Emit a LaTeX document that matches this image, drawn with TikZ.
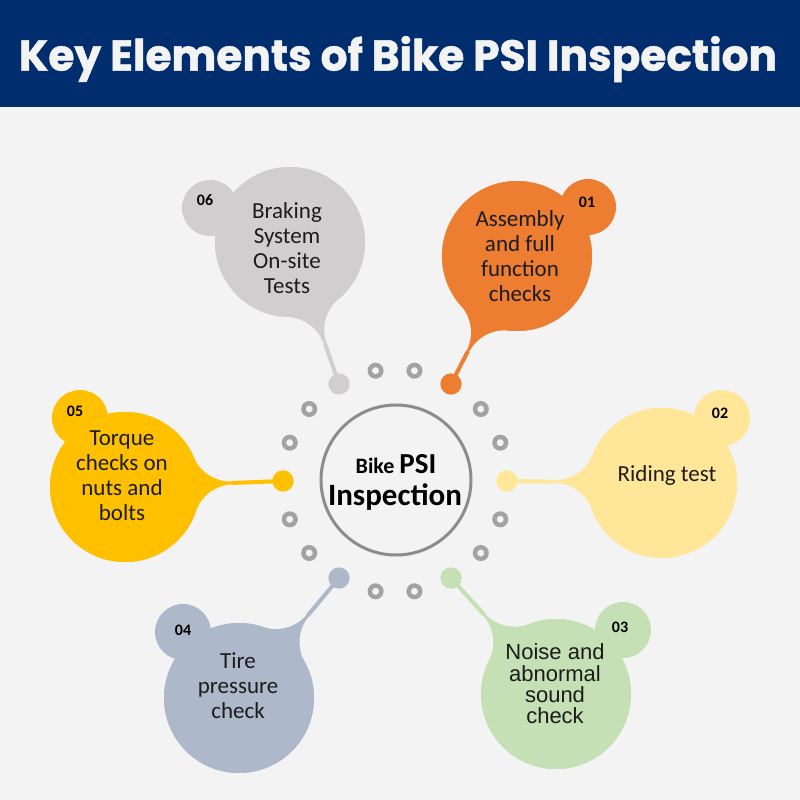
\documentclass[tikz,border=0pt]{standalone}
\usepackage{fontspec}
\usepackage{graphicx}
\setmainfont{Carlito}
\newfontfamily\arialfont{Liberation Sans}
\newfontfamily\headfont[BoldFeatures={FakeBold=1.2}]{Poppins}
\usetikzlibrary{calc}

\definecolor{bgc}{HTML}{F3F3F3}
\definecolor{navy}{HTML}{002D6E}
\definecolor{txt}{HTML}{1C1C1C}
\definecolor{ringgray}{HTML}{A3A3A3}
\definecolor{hubgray}{HTML}{8C8C8C}
\definecolor{cgray}{HTML}{D0CECE}
\definecolor{corange}{HTML}{ED7D31}
\definecolor{clight}{HTML}{FFE699}
\definecolor{cgreen}{HTML}{C5E0B4}
\definecolor{cblue}{HTML}{ADB9CA}
\definecolor{cyellow}{HTML}{FFC000}

% tapered neck joining a bubble (#1) to its dot (#2), colour #3
\newcommand\flare[3]{%
  \coordinate (fq) at ($(#1)!107.3pt!(#2)$);
  \fill[#3] (#1.center) -- ($(fq)!41.5pt!90:(#2)$) -- ($(fq)!41.5pt!-90:(#2)$) -- cycle;
  \fill[bgc] ($(fq)!41.5pt!90:(#2)$) circle (40pt) ($(fq)!41.5pt!-90:(#2)$) circle (40pt);
  \draw[#3, line width=4pt] (fq) -- (#2.center);
}

\tikzset{
  bubble/.style={circle, inner sep=0, minimum size=150pt},
  numdisc/.style={circle, inner sep=0, minimum size=56pt},
  numtext/.style={font=\bfseries\fontsize{16}{16}\selectfont, text=black, inner sep=0},
  lbl/.style={font=\fontsize{23}{25}\selectfont, text=txt, align=center, inner sep=0},
  ring/.style={circle, draw=ringgray, line width=4.5pt, fill=bgc, minimum size=11.5pt, inner sep=0},
  pin/.style={circle, inner sep=0, minimum size=21pt},
}

\begin{document}
\begin{tikzpicture}[x=1pt,y=-1pt]
\useasboundingbox (0,0) rectangle (800,800);
\fill[bgc] (0,0) rectangle (800,800);

% header band
\fill[navy] (0,0) rectangle (800,107);
\node[inner sep=0, text=bgc] (title) at (398,59)
  {\resizebox*{758pt}{46pt}{\headfont\bfseries Key Elements of Bike PSI Inspection}};

\coordinate (ctr) at (395,481);

% coloured dots on the ring
\node[pin, fill=corange] (p01) at ($(ctr)+(-60:112)$) {};
\node[pin, fill=clight]  (p02) at ($(ctr)+(0:112)$) {};
\node[pin, fill=cgreen]  (p03) at ($(ctr)+(60:112)$) {};
\node[pin, fill=cblue]   (p04) at ($(ctr)+(120:112)$) {};
\node[pin, fill=cyellow] (p05) at ($(ctr)+(180:112)$) {};
\node[pin, fill=cgray]   (p06) at ($(ctr)+(240:112)$) {};

% bubbles
\node[bubble, fill=cgray]   (b06) at (290,242) {};
\node[bubble, fill=corange] (b01) at (517,256) {};
\node[bubble, fill=clight]  (b02) at (662,483) {};
\node[bubble, fill=cgreen]  (b03) at (556,694) {};
\node[bubble, fill=cblue]   (b04) at (239,698) {};
\node[bubble, fill=cyellow] (b05) at (125,487) {};

\flare{b06}{p06}{cgray}
\flare{b01}{p01}{corange}
\flare{b02}{p02}{clight}
\flare{b03}{p03}{cgreen}
\flare{b04}{p04}{cblue}
\flare{b05}{p05}{cyellow}

% redraw bubbles and dots over the necks
\node[bubble, fill=cgray]   at (b06) {};
\node[bubble, fill=corange] at (b01) {};
\node[bubble, fill=clight]  at (b02) {};
\node[bubble, fill=cgreen]  at (b03) {};
\node[bubble, fill=cblue]   at (b04) {};
\node[bubble, fill=cyellow] at (b05) {};
\node[pin, fill=corange] at (p01) {};
\node[pin, fill=clight]  at (p02) {};
\node[pin, fill=cgreen]  at (p03) {};
\node[pin, fill=cblue]   at (p04) {};
\node[pin, fill=cyellow] at (p05) {};
\node[pin, fill=cgray]   at (p06) {};

% number discs
\node[numdisc, fill=cgray]   (n06) at (210,208) {};
\node[numdisc, fill=corange] (n01) at (588,207) {};
\node[numdisc, fill=clight]  (n02) at (722,418) {};
\node[numdisc, fill=cgreen]  (n03) at (623,630) {};
\node[numdisc, fill=cblue]   (n04) at (183,632) {};
\node[numdisc, fill=cyellow] (n05) at (80,418) {};

\node[numtext] (k06) at (205,200) {06};
\node[numtext] (k01) at (587,202) {01};
\node[numtext] (k02) at (720,413) {02};
\node[numtext] (k03) at (620,627) {03};
\node[numtext] (k04) at (183,630) {04};
\node[numtext] (k05) at (75,411) {05};

% bubble texts
\node[lbl] (t06) at (287,248) {Braking\\System\\On-site\\Tests};
\node[lbl] (t01) at (520,256) {Assembly\\and full\\function\\checks};
\node[lbl] (t02) at (667,475) {Riding test};
\node[lbl, font=\arialfont\fontsize{22}{21.3}\selectfont] (t03) at (555,684) {Noise and\\abnormal\\sound\\check};
\node[lbl] (t04) at (238,686) {Tire\\pressure\\check};
\node[lbl] (t05) at (122,476) {Torque\\checks on\\nuts and\\bolts};

% grey rings around the hub
\foreach \a [count=\i] in {20,40,80,100,140,160,200,220,260,280,320,340}
  \node[ring] (r\i) at ($(ctr)+(-\a:112)$) {};

% hub
\node[circle, draw=hubgray, line width=3pt, minimum size=150pt, inner sep=0] (hub) at (396,480) {};
\node[anchor=base, inner sep=0, font=\bfseries, text=black] (h1) at (396,473)
  {\fontsize{22}{22}\selectfont Bike \fontsize{29}{29}\selectfont PSI};
\node[anchor=base, inner sep=0, font=\bfseries\fontsize{31}{31}\selectfont, text=black] (h2) at (395,505) {Inspection};
\end{tikzpicture}
\end{document}
